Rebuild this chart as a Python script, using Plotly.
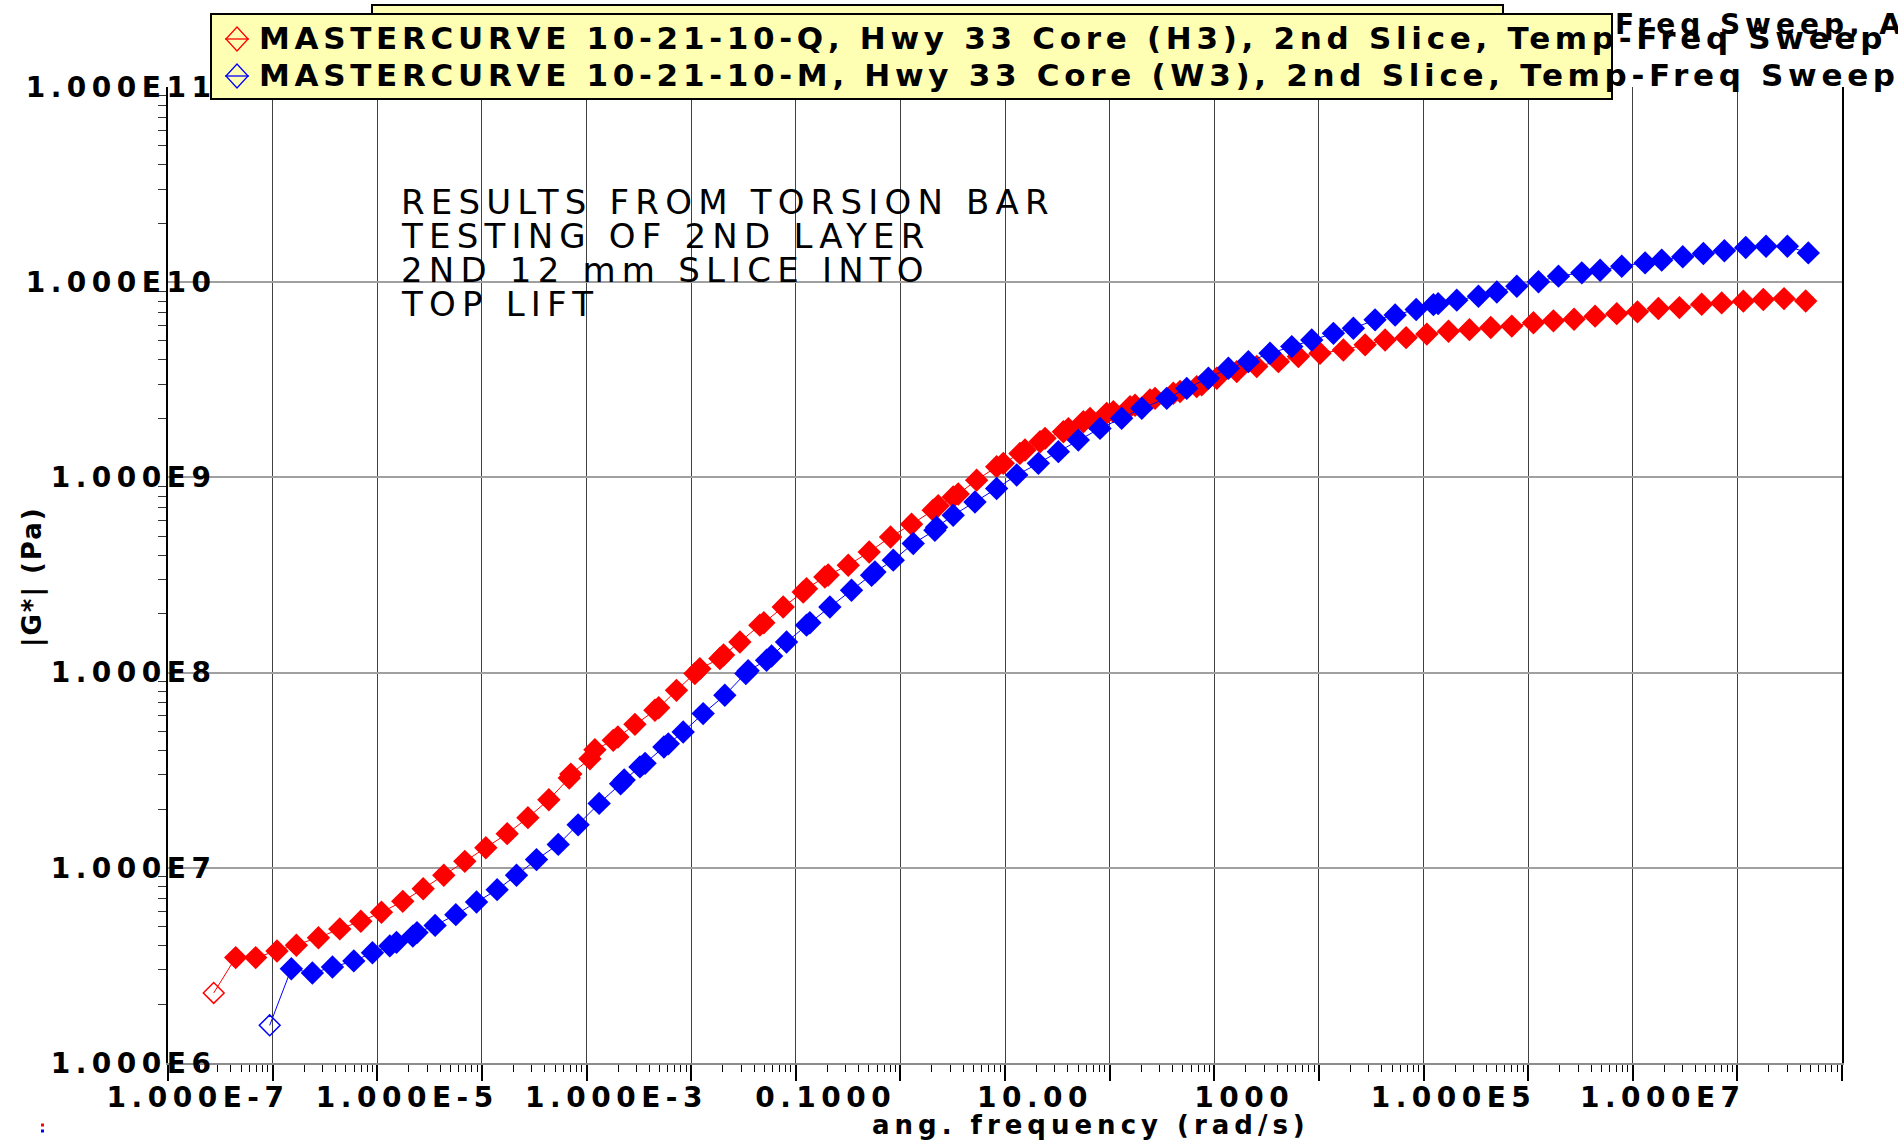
import plotly.graph_objects as go

# ---------------- data (log10 values) ----------------
red_log_freq = [-6.563, -6.353, -6.162, -5.958, -5.773, -5.562, -5.358, -5.157, -4.960, -4.756,
                -4.561, -4.364, -4.163, -3.962, -3.758, -3.560, -3.360, -3.165, -3.150, -2.967,
                -2.920, -2.744, -2.700, -2.537, -2.346, -2.310, -2.140, -1.964, -1.917, -1.725,
                -1.690, -1.534, -1.343, -1.305, -1.120, -0.929, -0.897, -0.722, -0.690, -0.498,
                -0.298, -0.094, 0.107, 0.314, 0.362, 0.505, 0.553, 0.729, 0.920, 0.984,
                1.143, 1.191, 1.335, 1.383, 1.558, 1.606, 1.749, 1.813, 1.972, 2.036,
                2.195, 2.243, 2.386, 2.434, 2.609, 2.673, 2.832, 2.880, 3.024, 3.215,
                3.406, 3.613, 3.804, 4.011, 4.234, 4.442, 4.633, 4.834, 5.032, 5.239,
                5.439, 5.643, 5.844, 6.051, 6.242, 6.439, 6.640, 6.847, 7.045, 7.245,
                7.446, 7.659, 7.850, 8.057, 8.248, 8.446, 8.653]
red_log_g = [6.359, 6.540, 6.540, 6.574, 6.603, 6.642, 6.687, 6.726, 6.772, 6.828,
             6.893, 6.962, 7.033, 7.103, 7.175, 7.257, 7.349, 7.460, 7.480, 7.559,
             7.605, 7.653, 7.670, 7.735, 7.807, 7.820, 7.909, 7.995, 8.020, 8.072,
             8.090, 8.157, 8.243, 8.255, 8.336, 8.413, 8.430, 8.490, 8.500, 8.550,
             8.618, 8.695, 8.760, 8.832, 8.855, 8.900, 8.915, 8.986, 9.055, 9.072,
             9.123, 9.140, 9.183, 9.200, 9.234, 9.250, 9.285, 9.302, 9.328, 9.337,
             9.362, 9.370, 9.397, 9.405, 9.431, 9.440, 9.465, 9.474, 9.508, 9.542,
             9.568, 9.593, 9.619, 9.636, 9.653, 9.679, 9.704, 9.716, 9.734, 9.749,
             9.757, 9.768, 9.775, 9.792, 9.802, 9.810, 9.826, 9.839, 9.848, 9.865,
             9.870, 9.887, 9.894, 9.903, 9.911, 9.916, 9.904]

blue_log_freq = [-6.028, -5.821, -5.620, -5.428, -5.224, -5.046, -4.880, -4.816, -4.660, -4.620,
                 -4.447, -4.249, -4.051, -3.854, -3.669, -3.478, -3.270, -3.080, -2.879, -2.674,
                 -2.640, -2.489, -2.440, -2.260, -2.218, -2.076, -1.885, -1.678, -1.477, -1.455,
                 -1.279, -1.231, -1.088, -0.897, -0.865, -0.674, -0.467, -0.275, -0.243, -0.068,
                 0.123, 0.330, 0.346, 0.505, 0.713, 0.920, 1.112, 1.319, 1.510, 1.701,
                 1.908, 2.115, 2.307, 2.546, 2.737, 2.944, 3.135, 3.326, 3.533, 3.741,
                 3.932, 4.139, 4.330, 4.537, 4.729, 4.930, 5.095, 5.140, 5.318, 5.525,
                 5.701, 5.892, 6.099, 6.290, 6.513, 6.688, 6.895, 7.118, 7.277, 7.478,
                 7.675, 7.876, 8.080, 8.274, 8.478, 8.678]
blue_log_g = [6.193, 6.483, 6.461, 6.492, 6.523, 6.565, 6.600, 6.618, 6.650, 6.668,
              6.705, 6.760, 6.825, 6.888, 6.962, 7.042, 7.120, 7.220, 7.330, 7.430,
              7.450, 7.517, 7.535, 7.619, 7.635, 7.696, 7.790, 7.884, 7.995, 8.010,
              8.063, 8.085, 8.157, 8.243, 8.255, 8.336, 8.422, 8.499, 8.515, 8.576,
              8.661, 8.729, 8.745, 8.806, 8.874, 8.943, 9.012, 9.072, 9.132, 9.191,
              9.251, 9.303, 9.354, 9.405, 9.456, 9.508, 9.559, 9.593, 9.636, 9.670,
              9.704, 9.738, 9.764, 9.807, 9.832, 9.860, 9.885, 9.890, 9.908, 9.928,
              9.950, 9.979, 10.002, 10.031, 10.048, 10.061, 10.082, 10.099, 10.113, 10.130,
              10.147, 10.161, 10.178, 10.184, 10.184, 10.150]

red_name = "MASTERCURVE 10-21-10-Q, Hwy 33 Core (H3), 2nd Slice, Temp-Freq Sweep"
blue_name = "MASTERCURVE 10-21-10-M, Hwy 33 Core (W3), 2nd Slice, Temp-Freq Sweep"
back_legend_text = "Freq Sweep, Al"
note_lines = ["RESULTS FROM TORSION BAR", "TESTING OF 2ND LAYER", "2ND 12 mm SLICE INTO", "TOP LIFT"]

x_tick_exp = list(range(-7, 10))
x_tick_text = ["1.000E-7", "", "1.000E-5", "", "1.000E-3", "", "0.1000", "", "10.00", "",
               "1000", "", "1.000E5", "", "1.000E7", "", "1.000E9"]
y_tick_exp = [6, 7, 8, 9, 10, 11]
y_tick_text = ["1.000E6", "1.000E7", "1.000E8", "1.000E9", "1.000E10", "1.000E11"]
x_title = "ang. frequency (rad/s)"
y_title = "|G*| (Pa)"

RED = "#ff0000"
BLUE = "#0000ff"

# ---------------- geometry helpers (pixel -> paper) ----------------
W, H = 1898, 1140
L, R, T, B = 168, 1842, 87, 1063


def px(x):
    return (x - L) / (R - L)


def py(y):
    return (B - y) / (B - T)


def spaced(txt, sp):
    if not txt:
        return txt
    return f'<span style="letter-spacing:{sp}px">{txt}</span>'


def series(log_f, log_g, color, name):
    n = len(log_f)
    symbols = ["diamond-open"] + ["diamond"] * (n - 1)
    sizes = [16] + [18] * (n - 1)
    lw = [1.5] + [0] * (n - 1)
    return go.Scatter(
        x=[10 ** v for v in log_f], y=[10 ** v for v in log_g],
        mode="lines+markers", name=name, showlegend=False,
        line=dict(color=color, width=1),
        marker=dict(symbol=symbols, size=sizes, color=color, opacity=1,
                    line=dict(color=color, width=lw)),
    )


fig = go.Figure()
fig.add_trace(series(red_log_freq, red_log_g, RED, red_name))
fig.add_trace(series(blue_log_freq, blue_log_g, BLUE, blue_name))

tick_font = dict(family="DejaVu Sans", size=28, color="black", weight="bold")
TICK_SP = 5.5

x_minor = [k * 10.0 ** e for e in range(-7, 9) for k in range(2, 10)]
y_minor = [k * 10.0 ** e for e in range(6, 11) for k in range(2, 10)]

fig.update_xaxes(
    type="log", range=[-7, 9],
    tickvals=[10.0 ** e for e in x_tick_exp], ticktext=[spaced(t, TICK_SP) for t in x_tick_text],
    ticks="outside", ticklen=16, tickwidth=1.5, tickcolor="black",
    ticklabelshift=30, ticklabelstandoff=-8,
    showgrid=True, gridcolor="#404040", gridwidth=1,
    showline=True, linecolor="#8c8c8c", linewidth=2,
    tickfont=tick_font, zeroline=False,
    minor=dict(tickvals=x_minor, ticks="outside", ticklen=7, tickwidth=1,
               tickcolor="black", showgrid=False),
)
fig.update_yaxes(
    type="log", range=[6, 11],
    tickvals=[10.0 ** e for e in y_tick_exp], ticktext=[spaced(t, TICK_SP) for t in y_tick_text],
    ticks="", ticklabelstandoff=-56,
    showgrid=True, gridcolor="#a0a0a0", gridwidth=1.5,
    showline=True, linecolor="black", linewidth=2, mirror=True,
    tickfont=tick_font, zeroline=False,
    minor=dict(tickvals=y_minor, ticks="outside", ticklen=8, tickwidth=1,
               tickcolor="#333333", showgrid=False),
)

shapes = []
# back legend box
shapes.append(dict(type="rect", xref="paper", yref="paper",
                   x0=px(372), x1=px(1503), y0=py(60), y1=py(5),
                   fillcolor="#ffffb4", line=dict(color="black", width=2), layer="above"))
# front legend box
shapes.append(dict(type="rect", xref="paper", yref="paper",
                   x0=px(211), x1=px(1612), y0=py(99), y1=py(14),
                   fillcolor="#ffffb4", line=dict(color="black", width=2), layer="above"))
# legend symbols
for cy, col in [(39, RED), (76, BLUE)]:
    cx, hw, hh = 237, 11, 12
    shapes.append(dict(type="path", xref="paper", yref="paper",
                       path=f"M {px(cx - hw)} {py(cy)} L {px(cx)} {py(cy - hh)} L {px(cx + hw)} {py(cy)} L {px(cx)} {py(cy + hh)} Z",
                       line=dict(color=col, width=1.3), layer="above"))
    shapes.append(dict(type="line", xref="paper", yref="paper",
                       x0=px(cx - hw - 1), x1=px(cx + hw + 1), y0=py(cy), y1=py(cy),
                       line=dict(color=col, width=1.3), layer="above"))
# tiny markers bottom-left
for cy, col in [(1125, RED), (1131, BLUE)]:
    shapes.append(dict(type="rect", xref="paper", yref="paper",
                       x0=px(41), x1=px(44), y0=py(cy + 1.5), y1=py(cy - 1.5),
                       fillcolor=col, line=dict(width=0), layer="above"))

annotations = []
legend_font = dict(family="DejaVu Sans", size=31, color="black", weight="bold")
for cy, txt in [(38, red_name), (75, blue_name)]:
    annotations.append(dict(xref="paper", yref="paper", x=px(257), y=py(cy),
                            xanchor="left", yanchor="middle", showarrow=False,
                            text=spaced(txt, 4.7), font=legend_font))
annotations.append(dict(xref="paper", yref="paper", x=px(1613), y=py(24),
                        xanchor="left", yanchor="middle", showarrow=False,
                        text=spaced(back_legend_text, 5),
                        font=dict(family="DejaVu Sans", size=28, color="black", weight="bold")))
for i, line in enumerate(note_lines):
    annotations.append(dict(xref="paper", yref="paper", x=px(399), y=py(202 + 34 * i),
                            xanchor="left", yanchor="middle", showarrow=False,
                            text=spaced(line, 6.2),
                            font=dict(family="DejaVu Sans", size=34, color="black")))
annotations.append(dict(xref="paper", yref="paper", x=px(1091), y=py(1125),
                        xanchor="center", yanchor="middle", showarrow=False,
                        text=spaced(x_title, 5),
                        font=dict(family="DejaVu Sans", size=26, color="black", weight="bold")))
annotations.append(dict(xref="paper", yref="paper", x=px(32), y=py(577),
                        xanchor="center", yanchor="middle", showarrow=False,
                        text=spaced(y_title, 2), textangle=-90,
                        font=dict(family="DejaVu Sans", size=26, color="black", weight="bold")))

fig.update_layout(
    width=W, height=H,
    margin=dict(l=L, r=W - R, t=T, b=H - B, pad=0),
    paper_bgcolor="white", plot_bgcolor="white",
    showlegend=False, shapes=shapes, annotations=annotations,
)

fig.write_html("out.html")
